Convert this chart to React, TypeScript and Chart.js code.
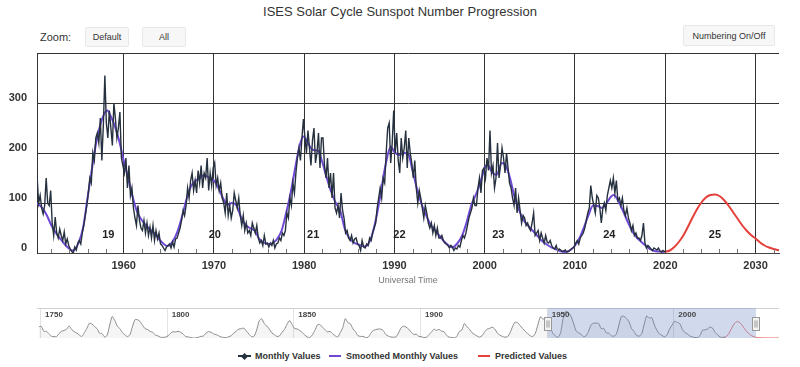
import React, { useEffect, useRef } from "react";
import { Chart, registerables } from "chart.js";
Chart.register(...registerables);

const FONT = "'Liberation Sans', Arial, sans-serif";
const titleText = "ISES Solar Cycle Sunspot Number Progression";
const xAxisTitle = "Universal Time";
const zoomLabel = "Zoom:";
const zoomButtons = ["Default", "All"];
const numberingButton = "Numbering On/Off";
const legendLabels = ["Monthly Values", "Smoothed Monthly Values", "Predicted Values"];

const xTickYears = [1960, 1970, 1980, 1990, 2000, 2010, 2020, 2030];
const yTickValues = [0, 100, 200, 300, 400];
const xMin = 1950.4;
const xMax = 2032.6;

const cycleNumbers = ["19", "20", "21", "22", "23", "24", "25"];
const cycleYears = [1958.3, 1970.1, 1981.0, 1990.55, 2001.5, 2013.8, 2025.5];
const cycleLabelLevel = 36;

// Monthly values, sampled every two months starting 1950
const monthlyStartYear = 1950;
const samplesPerYear = 6;
const monthlyValues = [
  120, 135, 150, 100, 115, 90,
  78, 95, 150, 100, 95, 125,
  60, 35, 72, 40, 30, 48,
  35, 25, 42, 18, 28, 15,
  8, 3, 0, 12, 6, 20,
  25, 18, 40, 55, 75, 95,
  120, 150, 140, 200, 185, 230,
  240, 220, 270, 185, 255, 355,
  260, 230, 285, 250, 215, 300,
  270, 230, 250, 282, 190, 175,
  160, 190, 130, 175, 115, 130,
  90, 70, 55, 95, 65, 50,
  45, 65, 40, 60, 35, 52,
  30, 55, 25, 45, 28, 40,
  18, 15, 10, 5, 12, 15,
  18, 10, 22, 12, 28, 30,
  40, 50, 65, 85, 75, 95,
  130, 110, 145, 160, 125, 145,
  120, 165, 140, 175, 130, 160,
  150, 190, 125, 160, 135, 170,
  180, 135, 150, 125, 140, 110,
  100, 80, 120, 75, 95, 70,
  85, 120, 105, 90, 110, 75,
  55, 75, 45, 60, 40, 45,
  35, 60, 50, 40, 55, 30,
  20, 25, 15, 35, 18, 20,
  12, 20, 15, 25, 10, 18,
  20, 30, 25, 40, 35, 45,
  80, 70, 110, 95, 140, 120,
  160, 190, 210, 185, 230, 268,
  230, 200, 245, 210, 175, 225,
  250, 180, 200, 240, 170, 230,
  230, 175, 150, 190, 130, 160,
  110, 160, 90, 80, 95, 70,
  120, 85, 70, 40, 45, 30,
  25, 35, 20, 28, 30, 18,
  15, 5, 25, 12, 10, 18,
  15, 30, 25, 40, 50, 60,
  90, 110, 130, 110, 150, 140,
  200, 250, 260, 180, 220, 285,
  200, 240, 185, 160, 230, 190,
  210, 245, 170, 230, 200, 180,
  150, 185, 130, 100, 125, 110,
  90, 70, 95, 80, 60, 50,
  60, 40, 55, 35, 50, 30,
  30, 35, 25, 20, 18, 15,
  10, 15, 12, 5, 10, 8,
  15, 12, 25, 35, 30, 40,
  55, 70, 80, 90, 110, 95,
  95, 130, 150, 120, 165, 170,
  150, 190, 165, 245, 160, 175,
  130, 150, 220, 150, 175, 210,
  190, 160, 200, 170, 140, 130,
  110, 95, 130, 80, 110, 85,
  60, 75, 70, 55, 60, 50,
  45, 60, 80, 35, 40, 45,
  25, 40, 30, 20, 35, 22,
  20, 25, 15, 10, 8, 15,
  5, 8, 6, 3, 4, 6,
  2, 3, 5, 8, 10, 12,
  20, 25, 18, 30, 35, 40,
  50, 65, 80, 90, 135, 110,
  95, 80, 115, 110, 90, 60,
  90, 100, 85, 115, 130, 145,
  130, 150, 120, 145, 105, 110,
  95, 110, 85, 75, 90, 70,
  60, 45, 55, 35, 40, 30,
  30, 25, 35, 60, 20, 10,
  15, 12, 8, 5, 10, 8,
  6, 10, 4, 2, 5, 3,
  3,
];

const smoothedYears = [
  1950.0, 1950.5, 1951.0, 1951.5, 1952.0, 1952.5, 1953.0, 1953.5, 1954.0, 1954.3, 1954.6, 1955.0, 1955.5,
  1956.0, 1956.5, 1957.0, 1957.5, 1958.0, 1958.2, 1958.5, 1959.0, 1959.5, 1960.0, 1960.5, 1961.0, 1961.5,
  1962.0, 1962.5, 1963.0, 1963.5, 1964.0, 1964.5, 1964.8, 1965.1, 1965.5, 1966.0, 1966.5, 1967.0, 1967.5,
  1968.0, 1968.5, 1968.9, 1969.5, 1970.0, 1970.5, 1971.0, 1971.5, 1972.0, 1972.5, 1973.0, 1973.5, 1974.0,
  1974.5, 1975.0, 1975.5, 1976.2, 1976.6, 1977.0, 1977.5, 1978.0, 1978.5, 1979.0, 1979.5, 1979.9, 1980.5,
  1981.0, 1981.5, 1982.0, 1982.5, 1983.0, 1983.5, 1984.0, 1984.5, 1985.0, 1985.5, 1986.0, 1986.7, 1987.1,
  1987.5, 1988.0, 1988.5, 1989.0, 1989.6, 1990.0, 1990.5, 1991.0, 1991.5, 1992.0, 1992.5, 1993.0, 1993.5,
  1994.0, 1994.5, 1995.0, 1995.5, 1996.0, 1996.4, 1997.0, 1997.5, 1998.0, 1998.5, 1999.0, 1999.5, 2000.0,
  2000.3, 2000.8, 2001.3, 2001.9, 2002.3, 2002.8, 2003.3, 2003.8, 2004.3, 2004.8, 2005.3, 2005.8, 2006.3,
  2006.8, 2007.3, 2007.8, 2008.3, 2008.9, 2009.5, 2010.0, 2010.5, 2011.0, 2011.5, 2012.0, 2012.5, 2013.0,
  2013.5, 2014.0, 2014.3, 2014.8, 2015.3, 2015.8, 2016.3, 2016.8, 2017.3, 2017.8, 2018.3, 2018.8, 2019.3,
  2019.9,
];
const smoothedValues = [
  105, 98, 90, 75, 55, 40, 28, 17, 8, 5, 7, 20, 50,
  110, 170, 225, 262, 283, 285, 276, 255, 225, 185, 150, 112, 82,
  66, 55, 46, 38, 26, 17, 14, 16, 25, 45, 75, 110, 135,
  145, 150, 156, 150, 145, 130, 110, 96, 100, 95, 72, 56, 50,
  45, 29, 21, 18, 21, 28, 45, 80, 120, 170, 215, 233, 217,
  206, 205, 182, 150, 122, 100, 84, 48, 30, 21, 17, 13, 18,
  35, 72, 122, 175, 213, 202, 196, 200, 199, 165, 128, 98, 76,
  57, 45, 34, 23, 15, 11, 20, 35, 62, 95, 116, 140, 170,
  177, 162, 156, 180, 176, 150, 112, 86, 66, 55, 45, 35, 25,
  18, 12, 8, 4, 2, 6, 15, 30, 52, 76, 95, 94, 90,
  100, 113, 116, 104, 85, 64, 45, 32, 23, 15, 8, 4, 3,
  2,
];

const predictedYears = [
  2019.9, 2020.5, 2021.0, 2021.5, 2022.0, 2022.5, 2023.0, 2023.5, 2024.0, 2024.5, 2025.0, 2025.5,
  2026.0, 2026.5, 2027.0, 2027.5, 2028.0, 2028.5, 2029.0, 2029.5, 2030.0, 2030.5, 2031.0, 2031.5,
  2032.0, 2032.5, 2033.0, 2034.0, 2036.0, 2038.0, 2041.7,
];
const predictedValues = [
  2, 5, 12, 22, 35, 52, 70, 87, 101, 111, 116, 117,
  114, 106, 95, 82, 69, 56, 45, 36, 29, 21, 15, 11,
  8, 6, 4, 2, 1, 0.5, 0.3,
];

// Navigator: yearly values from 1749
const navStartYear = 1749;
const navValues = [
  81, 83, 48, 48, 31, 12, 10, 10, 32, 48, 54, 63, 86, 61, 45, 36, 21, 11, 38, 70,
  106, 101, 82, 67, 35, 31, 7, 20, 93, 154, 126, 85, 68, 39, 23, 10, 24, 83, 132, 131,
  118, 90, 67, 60, 47, 41, 21, 16, 6, 4, 7, 15, 34, 45, 43, 48, 42, 28, 10, 8,
  3, 0, 1, 5, 12, 14, 35, 46, 41, 30, 24, 16, 7, 4, 2, 9, 17, 36, 50, 64,
  67, 71, 48, 28, 9, 13, 57, 122, 138, 103, 86, 65, 37, 24, 11, 15, 40, 62, 99, 125,
  96, 67, 65, 54, 39, 21, 7, 4, 23, 55, 94, 96, 77, 59, 44, 47, 31, 16, 7, 38,
  74, 139, 111, 102, 66, 45, 17, 11, 12, 3, 6, 32, 54, 60, 64, 64, 52, 25, 13, 7,
  6, 7, 36, 73, 85, 78, 64, 42, 26, 27, 12, 10, 3, 5, 24, 42, 64, 54, 62, 49,
  44, 19, 6, 4, 1, 10, 47, 57, 104, 81, 64, 38, 26, 14, 6, 17, 44, 64, 69, 78,
  65, 36, 21, 11, 6, 9, 36, 80, 114, 110, 89, 68, 48, 31, 16, 10, 33, 93, 152, 136,
  135, 84, 69, 32, 14, 4, 38, 142, 190, 185, 159, 112, 54, 38, 28, 10, 15, 47, 94, 106,
  106, 105, 67, 69, 38, 35, 16, 13, 28, 93, 155, 155, 140, 116, 67, 46, 18, 13, 29, 100,
  158, 143, 146, 94, 55, 30, 18, 9, 22, 64, 93, 120, 111, 104, 64, 40, 30, 15, 8, 3,
  3, 17, 56, 58, 65, 79, 70, 40, 22, 7, 4, 9,
];
const navTickYears = [1750, 1800, 1850, 1900, 1950, 2000];
const navMin = 1748.8;
const navMax = 2041.7;

const minorTickYears = [
  1952, 1954, 1956, 1958, 1962, 1964, 1966, 1968, 1972, 1974, 1976, 1978, 1982, 1984, 1986, 1988,
  1992, 1994, 1996, 1998, 2002, 2004, 2006, 2008, 2012, 2014, 2016, 2018, 2022, 2024, 2026, 2028, 2032,
];

const MONTHLY_COLOR = "#26313f";
const SMOOTH_COLOR = "#7048d8";
const PRED_COLOR = "#e5403a";

function MainChart() {
  const ref = useRef<HTMLCanvasElement>(null);
  useEffect(() => {
    const monthlyData = monthlyValues.map((v, i) => ({ x: monthlyStartYear + (i + 0.5) / samplesPerYear, y: v }));
    const smoothData = smoothedYears.map((x, i) => ({ x, y: smoothedValues[i] }));
    const predData = predictedYears.map((x, i) => ({ x, y: predictedValues[i] }));
    const overlay = {
      id: "overlay",
      afterDatasetsDraw(chart: any) {
        const { ctx, scales, chartArea } = chart;
        const xs = scales.x;
        const ys = scales.y;
        ctx.save();
        ctx.strokeStyle = "#777";
        ctx.lineWidth = 1;
        minorTickYears.forEach((yr) => {
          const px = Math.round(xs.getPixelForValue(yr)) + 0.5;
          ctx.beginPath();
          ctx.moveTo(px, chartArea.bottom);
          ctx.lineTo(px, chartArea.bottom - 4);
          ctx.stroke();
        });
        ctx.fillStyle = "#222";
        ctx.font = `bold 11px ${FONT}`;
        ctx.textAlign = "center";
        ctx.textBaseline = "middle";
        cycleNumbers.forEach((t, i) => {
          ctx.fillText(t, xs.getPixelForValue(cycleYears[i]), ys.getPixelForValue(cycleLabelLevel));
        });
        ctx.restore();
      },
    };
    const chart = new Chart(ref.current!, {
      type: "line",
      data: {
        datasets: [
          { label: legendLabels[0], data: monthlyData, borderColor: MONTHLY_COLOR, borderWidth: 1.4, pointRadius: 0, tension: 0 },
          { label: legendLabels[1], data: smoothData, borderColor: SMOOTH_COLOR, borderWidth: 2, pointRadius: 0, cubicInterpolationMode: "monotone" },
          { label: legendLabels[2], data: predData, borderColor: PRED_COLOR, borderWidth: 2, pointRadius: 0, cubicInterpolationMode: "monotone" },
        ],
      },
      options: {
        responsive: false,
        animation: false,
        layout: { padding: { top: 53, right: 21, left: 0, bottom: 0 } },
        plugins: { legend: { display: false }, tooltip: { enabled: false } },
        scales: {
          x: {
            type: "linear",
            min: xMin,
            max: xMax,
            afterBuildTicks: (s: any) => {
              s.ticks = xTickYears.map((value) => ({ value }));
            },
            afterFit: (s: any) => {
              s.height = 47;
            },
            grid: { color: "#333", lineWidth: 1, drawTicks: false },
            border: { display: true, color: "#444", width: 1 },
            ticks: {
              padding: 6,
              autoSkip: false,
              maxRotation: 0,
              color: "#333",
              font: { size: 11, weight: "bold", family: FONT },
              callback: (v: any) => String(v),
            },
          },
          y: {
            min: 0,
            max: 400,
            afterBuildTicks: (s: any) => {
              s.ticks = yTickValues.map((value) => ({ value }));
            },
            afterFit: (s: any) => {
              s.width = 37;
            },
            grid: { color: "#333", lineWidth: 1, drawTicks: false },
            border: { display: true, color: "#333", width: 1 },
            ticks: {
              padding: 10,
              labelOffset: -5,
              color: "#333",
              font: { size: 11, weight: "bold", family: FONT },
              callback: (v: any) => (v === 400 ? "" : String(v)),
            },
          },
        },
      } as any,
      plugins: [overlay],
    });
    return () => chart.destroy();
  }, []);
  return <canvas ref={ref} width={800} height={300} style={{ position: "absolute", left: 0, top: 0, width: 800, height: 300 }} />;
}

function Navigator() {
  const ref = useRef<HTMLCanvasElement>(null);
  useEffect(() => {
    const navData = navValues.map((v, i) => ({ x: navStartYear + i + 0.5, y: v }));
    const predData = predictedYears.map((x, i) => ({ x, y: predictedValues[i] }));
    const navPlugin = {
      id: "nav",
      beforeDatasetsDraw(chart: any) {
        const { ctx, scales, chartArea } = chart;
        const xs = scales.x;
        ctx.save();
        ctx.strokeStyle = "#e3e3e3";
        ctx.lineWidth = 1;
        navTickYears.forEach((yr) => {
          const px = Math.round(xs.getPixelForValue(yr)) + 0.5;
          ctx.beginPath();
          ctx.moveTo(px, chartArea.top);
          ctx.lineTo(px, chartArea.bottom);
          ctx.stroke();
        });
        ctx.strokeStyle = "#d0d0d0";
        ctx.beginPath();
        ctx.moveTo(chartArea.left, chartArea.top + 0.5);
        ctx.lineTo(chartArea.right, chartArea.top + 0.5);
        ctx.stroke();
        ctx.restore();
      },
      afterDatasetsDraw(chart: any) {
        const { ctx, scales, chartArea } = chart;
        const xs = scales.x;
        const x0 = xs.getPixelForValue(xMin);
        const x1 = xs.getPixelForValue(xMax);
        ctx.save();
        ctx.fillStyle = "rgba(102,133,194,0.3)";
        ctx.fillRect(x0, chartArea.top, x1 - x0, chartArea.bottom - chartArea.top);
        ctx.fillStyle = "#444";
        ctx.font = `bold 8px ${FONT}`;
        ctx.textAlign = "left";
        ctx.textBaseline = "top";
        navTickYears.forEach((yr) => {
          ctx.fillText(String(yr), xs.getPixelForValue(yr) + 5, chartArea.top + 3);
        });
        [x0, x1].forEach((hx) => {
          const left = Math.round(hx) - 3.5;
          const top = chartArea.top + 9.5;
          ctx.fillStyle = "#f2f2f2";
          ctx.strokeStyle = "#999";
          ctx.lineWidth = 1;
          ctx.fillRect(left, top, 7, 13);
          ctx.strokeRect(left, top, 7, 13);
          ctx.beginPath();
          ctx.moveTo(left + 2.5, top + 3);
          ctx.lineTo(left + 2.5, top + 10);
          ctx.moveTo(left + 4.5, top + 3);
          ctx.lineTo(left + 4.5, top + 10);
          ctx.stroke();
        });
        ctx.restore();
      },
    };
    const chart = new Chart(ref.current!, {
      type: "line",
      data: {
        datasets: [
          {
            data: navData,
            borderColor: "#8a8a8a",
            borderWidth: 1,
            pointRadius: 0,
            fill: "origin",
            backgroundColor: "rgba(0,0,0,0.04)",
            tension: 0.2,
          },
          { data: predData, borderColor: "#e87a75", borderWidth: 1, pointRadius: 0, cubicInterpolationMode: "monotone" },
        ],
      },
      options: {
        responsive: false,
        animation: false,
        layout: { padding: { top: 8, bottom: 7, left: 37, right: 21 } },
        plugins: { legend: { display: false }, tooltip: { enabled: false } },
        scales: {
          x: { type: "linear", min: navMin, max: navMax, display: false },
          y: { min: 0, max: 215, display: false },
        },
      } as any,
      plugins: [navPlugin],
    });
    return () => chart.destroy();
  }, []);
  return <canvas ref={ref} width={800} height={45} style={{ position: "absolute", left: 0, top: 300, width: 800, height: 45 }} />;
}

const btnStyle: React.CSSProperties = {
  position: "absolute",
  background: "#f7f7f7",
  border: "1px solid #e8e8e8",
  borderRadius: 2,
  boxSizing: "border-box",
  fontSize: 9,
  color: "#333",
  display: "flex",
  alignItems: "center",
  justifyContent: "center",
  fontFamily: FONT,
};

export default function App() {
  return (
    <div style={{ position: "fixed", left: 0, top: 0, width: 800, height: 367, background: "#fff", fontFamily: FONT, overflow: "hidden" }}>
      <div style={{ position: "absolute", left: 0, width: 800, top: 4, textAlign: "center", fontSize: 13, color: "#333", lineHeight: "16px" }}>
        {titleText}
      </div>
      <div style={{ position: "absolute", left: 40, top: 30, fontSize: 11, color: "#333", lineHeight: "14px" }}>{zoomLabel}</div>
      <div style={{ ...btnStyle, left: 85, top: 27, width: 44, height: 20 }}>{zoomButtons[0]}</div>
      <div style={{ ...btnStyle, left: 142, top: 27, width: 44, height: 20 }}>{zoomButtons[1]}</div>
      <div style={{ ...btnStyle, left: 683, top: 25, width: 92, height: 21 }}>{numberingButton}</div>
      <MainChart />
      <div style={{ position: "absolute", left: 0, width: 816, top: 274, textAlign: "center", fontSize: 9, color: "#777", lineHeight: "12px" }}>
        {xAxisTitle}
      </div>
      <Navigator />
      <div style={{ position: "absolute", top: 349, left: 0, width: 800, height: 14, fontSize: 9, fontWeight: "bold", color: "#333" }}>
        <div style={{ position: "absolute", left: 238, top: 6, width: 13, height: 2, background: MONTHLY_COLOR }} />
        <div style={{ position: "absolute", left: 242, top: 4.5, width: 5, height: 5, background: MONTHLY_COLOR, transform: "rotate(45deg)" }} />
        <div style={{ position: "absolute", left: 255, top: 0, lineHeight: "14px" }}>{legendLabels[0]}</div>
        <div style={{ position: "absolute", left: 329, top: 6, width: 12, height: 2, background: SMOOTH_COLOR }} />
        <div style={{ position: "absolute", left: 346, top: 0, lineHeight: "14px" }}>{legendLabels[1]}</div>
        <div style={{ position: "absolute", left: 478, top: 6, width: 12, height: 2, background: PRED_COLOR }} />
        <div style={{ position: "absolute", left: 495, top: 0, lineHeight: "14px" }}>{legendLabels[2]}</div>
      </div>
    </div>
  );
}
